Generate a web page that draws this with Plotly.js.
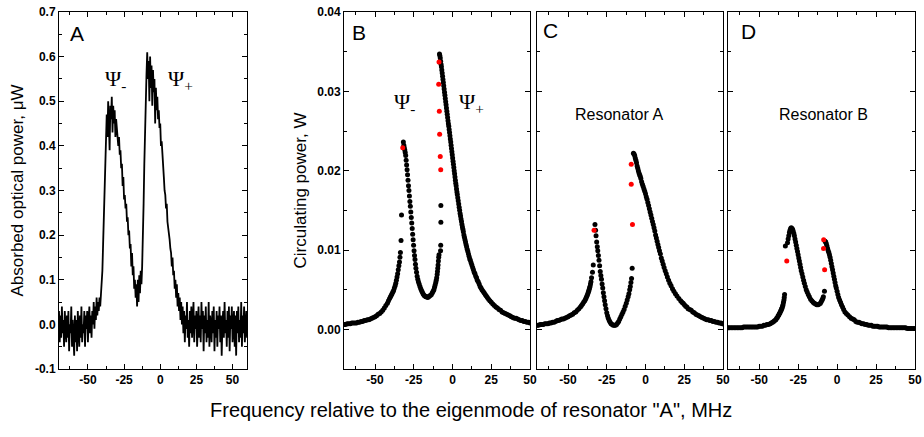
<!DOCTYPE html>
<html>
<head>
<meta charset="utf-8">
<script src="https://cdn.plot.ly/plotly-3.0.1.min.js"></script>
<style>html,body{margin:0;padding:0;background:#fff;}#chart{width:924px;height:437px;}</style>
</head>
<body>
<div id="chart"></div>
<script>
// ---------- Panel A: measured absorbed optical power (uW), sampled every 0.5 MHz from -70 MHz ----------
const absFreqStart = -70;
const absFreqStep = 0.5;
const absorbedPower = [
0.03,-0.04,0.02,-0.03,0.04,-0.02,0.01,-0.05,0.03,-0.01,
-0.04,0.02,-0.03,0.03,-0.06,0.00,-0.02,0.04,-0.05,0.01,
-0.03,-0.07,0.02,-0.04,0.01,-0.06,0.03,-0.02,-0.05,0.02,
-0.03,0.04,-0.04,0.00,-0.02,0.03,-0.05,0.02,-0.01,0.03,
-0.04,0.01,0.04,-0.02,0.02,-0.03,0.03,0.00,0.05,-0.01,
0.04,0.01,0.06,0.02,0.05,0.03,0.06,0.04,0.06,
0.08,0.12,0.18,0.25,0.32,0.38,0.44,
0.47,0.42,0.50,0.45,0.39,0.49,0.46,0.51,0.43,0.49,0.45,0.48,0.42,0.46,0.44,
0.43,0.40,0.42,0.38,0.39,0.35,0.36,0.31,0.33,0.28,0.29,0.26,0.27,0.23,0.24,0.20,0.21,0.17,0.18,0.13,0.16,0.11,0.13,0.08,0.10,0.06,
0.09,0.04,0.10,0.05,0.11,0.07,0.12,0.09,0.13,
0.18,0.27,0.36,0.45,0.52,0.56,
0.61,0.55,0.59,0.50,0.60,0.53,0.58,0.49,0.57,0.52,0.55,0.45,0.53,0.48,0.51,0.46,0.48,
0.44,0.45,0.40,0.41,0.37,0.35,0.33,0.30,0.29,0.26,0.27,0.23,0.22,0.20,0.19,0.17,0.16,0.13,0.15,0.11,0.12,0.08,0.10,0.06,0.09,0.04,0.07,0.03,0.06,0.01,0.05,0.00,
0.04,-0.02,0.03,-0.04,0.02,-0.01,0.05,-0.03,0.01,-0.05,
0.03,-0.02,0.04,-0.03,0.00,0.05,-0.04,0.02,-0.01,0.03,
-0.05,0.01,0.04,-0.03,0.02,-0.04,0.05,-0.01,0.03,-0.06,
0.02,-0.02,0.04,-0.04,0.01,-0.03,0.05,-0.05,0.02,0.00,
-0.04,0.03,-0.02,0.04,-0.06,0.01,-0.03,0.03,-0.05,0.02,
-0.01,0.04,-0.04,0.02,-0.07,0.00,0.03,-0.03,0.05,-0.02,
0.01,-0.05,0.03,-0.03,0.04,-0.06,0.02,-0.01,0.04,-0.04,
0.00,0.03,-0.05,0.02,-0.07,0.03,-0.02,0.04,-0.04,0.01,
-0.03,0.05,-0.05,0.02,-0.02,0.04,-0.04,0.01,0.03,-0.03
];

// ---------- Panel B: total circulating power (W) ----------
const bFreq = [
-70,-69,-68,-67,-66,-65,-64,-63,-62,-61,-60,-59,-58,-57,-56,-55,-54,-53,-52,-51,-50,-49,-48,-47,-46,-45,-44,-43,-42,-41.3,-40.6,-40,-39.5,-39,-38.5,-38,-37.5,-37,-36.6,-36.2,-35.8,-35.4,-35.0,-34.6,-34.2,-33.9,-33.6,-33.2,-32.9,
-31.7,-31.4,-31.1,-30.8,-30.5,-30.2,-29.9,-29.6,-29.3,-29.0,-28.7,-28.4,-28.1,-27.8,-27.5,-27.2,-26.9,-26.6,-26.3,-26.0,-25.7,-25.4,-25.1,-24.8,-24.5,-24.2,-23.9,-23.6,-23.2,-22.8,-22.4,-22.0,-21.5,-21.0,-20.5,-20.0,-19.5,-19.0,-18.4,-17.8,-17.2,-16.6,-16.0,-15.4,-14.8,-14.2,-13.6,-13.0,-12.5,-12.0,-11.6,-11.2,-10.8,-10.5,-10.2,-9.9,-9.7,-9.5,-9.3,-9.1,-8.9,
-8.7,-7.7,-7.6,-7.5,-7.5,
-8.4,-8.15,-7.9,-7.65,-7.4,-7.15,-6.9,-6.65,-6.4,-6.15,-5.9,-5.65,-5.4,-5.15,-4.9,-4.65,-4.4,-4.15,-3.9,-3.65,-3.4,-3.15,-2.9,-2.65,-2.4,-2.15,-1.9,-1.65,-1.4,-1.15,-0.9,-0.65,-0.4,-0.15,0.1,0.35,0.6,0.85,1.1,1.35,1.6,1.85,2.1,2.35,2.6,2.85,3.1,3.4,3.7,4.0,4.3,4.6,4.9,5.2,5.5,5.8,6.1,6.4,6.7,7.0,7.35,7.7,8.05,8.4,8.75,9.1,9.5,9.9,10.3,10.7,11.1,11.5,12.0,12.5,13.0,13.5,14.0,14.5,15.0,15.5,16.0,16.6,17.2,17.8,18.4,19.0,19.7,20.4,21.1,21.8,22.5,23.3,24.1,25.0,26,27,28,29,30,31,32,33,34,35,36,37,38,39,40,41,42,43,44,45,46,47,48,49,50];
const bPower = [
0.0006,0.0006,0.0007,0.0007,0.0007,0.0008,0.0008,0.0008,0.0008,0.0009,0.0009,0.0010,0.0010,0.0011,0.0011,0.0012,0.0012,0.0013,0.0014,0.0015,0.0016,0.0017,0.0019,0.0020,0.0022,0.0024,0.0027,0.0030,0.0033,0.0036,0.0039,0.0041,0.0043,0.0045,0.0047,0.0049,0.0052,0.0055,0.0058,0.0062,0.0066,0.0070,0.0075,0.0080,0.0085,0.0091,0.0097,0.0112,0.0144,
0.0236,0.0232,0.0229,0.0226,0.0223,0.0219,0.0213,0.0207,0.0201,0.0195,0.0188,0.0181,0.0175,0.0168,0.0161,0.0155,0.0148,0.0141,0.0134,0.0127,0.0120,0.0113,0.0106,0.0099,0.0093,0.0088,0.0082,0.0077,0.0072,0.0067,0.0063,0.0060,0.0057,0.0054,0.0051,0.0049,0.0047,0.0045,0.0043,0.0042,0.0041,0.0041,0.0040,0.0041,0.0042,0.0043,0.0044,0.0046,0.0048,0.0050,0.0053,0.0056,0.0059,0.0062,0.0065,0.0069,0.0073,0.0077,0.0081,0.0086,0.0091,
0.0094,0.0099,0.0106,0.0135,0.0156,
0.0347,0.0345,0.0342,0.0338,0.0334,0.0331,0.0327,0.0323,0.0319,0.0315,0.0311,0.0307,0.0303,0.0299,0.0295,0.0291,0.0287,0.0283,0.0279,0.0275,0.0271,0.0267,0.0263,0.0259,0.0256,0.0252,0.0248,0.0244,0.0240,0.0236,0.0232,0.0228,0.0224,0.0220,0.0216,0.0212,0.0208,0.0204,0.0200,0.0196,0.0192,0.0188,0.0184,0.0181,0.0177,0.0173,0.0170,0.0166,0.0162,0.0158,0.0154,0.0150,0.0146,0.0143,0.0139,0.0136,0.0132,0.0129,0.0126,0.0123,0.0119,0.0116,0.0113,0.0110,0.0107,0.0104,0.0101,0.0098,0.0095,0.0092,0.0089,0.0087,0.0084,0.0081,0.0078,0.0075,0.0072,0.0070,0.0067,0.0065,0.0062,0.0060,0.0057,0.0054,0.0052,0.0050,0.0048,0.0046,0.0044,0.0042,0.0040,0.0038,0.0036,0.0034,0.0032,0.0030,0.0028,0.0027,0.0025,0.0024,0.0022,0.0021,0.0020,0.0019,0.0018,0.0017,0.0016,0.0015,0.0014,0.0014,0.0013,0.0012,0.0011,0.0011,0.0010,0.0010,0.0009,0.0009,0.0008];
const bRedFreq = [-32.1,-8.7,-8.9,-8.5,-8.3,-7.9,-7.6];
const bRedPower = [0.0229,0.0337,0.0309,0.0275,0.0246,0.0218,0.0201];

// ---------- Panel C: resonator A ----------
const cFreq = [
-70,-69,-68,-67,-66,-65,-64,-63,-62,-61,-60,-59,-58,-57,-56,-55,-54,-53,-52,-51,-50,-49,-48,-47,-46,-45,-44,-43,-42,-41.3,-40.6,-39.9,-39.2,-38.7,-38.2,-37.8,-37.4,-37.0,-36.7,-36.4,-36.1,-35.8,-35.5,-35.2,-34.8,-34.2,-33.7,
-32.6,-32.2,-31.9,-31.5,-31.1,-30.8,-30.4,-30.0,-29.6,-29.2,-28.8,-28.4,-28.0,-27.6,-27.2,-26.8,-26.4,-26.0,-25.5,-25.0,-24.5,-24.0,-23.4,-22.8,-22.2,-21.5,-20.8,-20.1,-19.4,-18.7,-18.0,-17.3,-16.6,-15.9,-15.2,-14.5,-13.8,-13.1,-12.4,-11.8,-11.2,-10.7,-10.2,-9.8,-9.4,
-9.0,-8.6,
-7.8,-7.4,-7.0,-6.6,-6.2,-5.8,-5.4,-5.0,-4.6,-4.2,-3.8,-3.4,-3.0,-2.5,-2.0,-1.5,-1.0,-0.5,0.0,0.5,1.0,1.5,2.0,2.5,3.0,3.5,4.0,4.5,5.0,5.5,6.0,6.5,7.0,7.5,8.0,8.5,9.0,9.6,10.2,10.8,11.4,12.0,12.7,13.4,14.1,14.9,15.7,16.5,17.4,18.3,19.3,20.3,21.5,22.7,23.5,24.3,25.1,25.9,26.7,27.5,28.5,29.5,30.5,31.5,32.5,33.5,34.5,35.5,36.5,37.5,38.5,39.5,40.5,41.5,42.5,43.5,44.5,45.5,46.5,47.5,48.5,49.5,50];
const cPower = [
0.0005,0.0005,0.0006,0.0006,0.0006,0.0007,0.0007,0.0007,0.0008,0.0008,0.0009,0.0009,0.0010,0.0011,0.0011,0.0012,0.0013,0.0013,0.0014,0.0015,0.0016,0.0017,0.0018,0.0019,0.0021,0.0022,0.0024,0.0026,0.0028,0.0030,0.0032,0.0034,0.0036,0.0038,0.0040,0.0042,0.0044,0.0046,0.0048,0.0050,0.0052,0.0054,0.0057,0.0060,0.0065,0.0072,0.0081,
0.0132,0.0125,0.0118,0.0110,0.0104,0.0099,0.0093,0.0087,0.0080,0.0073,0.0068,0.0063,0.0057,0.0052,0.0046,0.0041,0.0036,0.0031,0.0026,0.0021,0.0017,0.0014,0.0011,0.0009,0.0007,0.0006,0.0005,0.0005,0.0005,0.0006,0.0008,0.0010,0.0013,0.0016,0.0019,0.0022,0.0025,0.0029,0.0033,0.0037,0.0041,0.0045,0.0050,0.0054,0.0059,
0.0064,0.0077,
0.0222,0.0221,0.0219,0.0216,0.0213,0.0210,0.0206,0.0203,0.0200,0.0197,0.0195,0.0193,0.0190,0.0186,0.0183,0.0180,0.0177,0.0174,0.0171,0.0167,0.0164,0.0160,0.0156,0.0152,0.0148,0.0144,0.0140,0.0136,0.0132,0.0128,0.0124,0.0119,0.0115,0.0111,0.0107,0.0103,0.0099,0.0095,0.0090,0.0086,0.0082,0.0078,0.0074,0.0070,0.0066,0.0062,0.0058,0.0055,0.0051,0.0048,0.0045,0.0042,0.0039,0.0036,0.0034,0.0033,0.0031,0.0029,0.0028,0.0026,0.0025,0.0024,0.0022,0.0021,0.0019,0.0018,0.0017,0.0016,0.0015,0.0014,0.0013,0.0012,0.0012,0.0011,0.0011,0.0010,0.0010,0.0009,0.0009,0.0008,0.0008,0.0007,0.0007];
const cRedFreq = [-33.2,-9.2,-9.2,-8.4];
const cRedPower = [0.0125,0.0208,0.0183,0.0132];

// ---------- Panel D: resonator B ----------
const dFreq = [
-70,-69,-68,-67,-66,-65,-64,-63,-62,-61,-60,-59,-58,-57,-56,-55,-54,-53,-52,-51,-50,-49,-48,-47,-46,-45,-44,-43,-42.2,-41.4,-40.7,-40.0,-39.3,-38.8,-38.3,-37.8,-37.4,-37.0,-36.6,-36.2,-35.9,-35.6,-35.3,-35.0,-34.7,-34.4,-34.1,-33.9,-33.7,
-33.2,
-31.8,-31.4,-31.0,-30.6,-30.2,-29.8,-29.4,-29.0,-28.6,-28.2,-27.8,-27.4,-27.0,-26.6,-26.2,-25.8,-25.4,-25.0,-24.6,-24.2,-23.8,-23.4,-23.0,-22.5,-22.0,-21.5,-21.0,-20.4,-19.8,-19.2,-18.5,-17.8,-17.0,-16.2,-15.4,-14.6,-13.8,-13.0,-12.2,-11.4,-10.7,-10.1,-9.6,-9.2,-8.8,
-8.1,
-7.7,-7.3,-6.9,-6.5,-6.1,-5.7,-5.3,-4.9,-4.5,-4.1,-3.7,-3.3,-2.9,-2.5,-2.1,-1.7,-1.3,-0.9,-0.5,0.0,0.5,1.0,1.6,2.2,2.8,3.5,4.2,5.0,5.9,6.9,8.0,9,10,11,12,13,14,15,16,17,18,19,20,21,22,23,24,25,26,27,28,29,30,31,32,33,34,35,36,37,38,39,40,41,42,43,44,45,46,47,48,49,50];
const dPower = [
0.0002,0.0002,0.0002,0.0002,0.0002,0.0002,0.0002,0.0002,0.0002,0.0002,0.0003,0.0003,0.0003,0.0003,0.0003,0.0003,0.0003,0.0003,0.0003,0.0003,0.0004,0.0004,0.0004,0.0005,0.0005,0.0006,0.0006,0.0007,0.0008,0.0009,0.0010,0.0011,0.0012,0.0014,0.0015,0.0017,0.0018,0.0020,0.0021,0.0023,0.0024,0.0026,0.0027,0.0029,0.0031,0.0034,0.0037,0.0040,0.0044,
0.0105,
0.0109,0.0114,0.0118,0.0122,0.0125,0.0127,0.0128,0.0127,0.0126,0.0124,0.0121,0.0118,0.0114,0.0110,0.0106,0.0102,0.0098,0.0094,0.0090,0.0086,0.0082,0.0078,0.0074,0.0070,0.0066,0.0062,0.0058,0.0054,0.0050,0.0047,0.0044,0.0041,0.0038,0.0036,0.0034,0.0033,0.0032,0.0031,0.0031,0.0032,0.0033,0.0035,0.0037,0.0039,0.0041,
0.0048,
0.0111,0.0110,0.0108,0.0105,0.0102,0.0099,0.0097,0.0094,0.0091,0.0087,0.0083,0.0079,0.0075,0.0071,0.0067,0.0063,0.0059,0.0055,0.0052,0.0048,0.0044,0.0040,0.0037,0.0034,0.0031,0.0028,0.0025,0.0022,0.0020,0.0018,0.0016,0.0014,0.0013,0.0012,0.0010,0.0009,0.0009,0.0008,0.0007,0.0007,0.0006,0.0006,0.0005,0.0005,0.0005,0.0004,0.0004,0.0004,0.0004,0.0003,0.0003,0.0003,0.0003,0.0003,0.0003,0.0002,0.0002,0.0002,0.0002,0.0002,0.0002,0.0002,0.0002,0.0002,0.0002,0.0002,0.0002,0.0001,0.0001,0.0001,0.0001,0.0001,0.0001];
const dRedFreq = [-32.3,-8.6,-8.7,-8.0];
const dRedPower = [0.0086,0.0113,0.0102,0.0075];

// ---------- tick labels ----------
const xTickVals = [-50,-25,0,25,50];
const xTickText = ['-50','-25','0','25','50'];
const xMinorVals = [-62.5,-37.5,-12.5,12.5,37.5];
const aTickVals = [-0.1,0,0.1,0.2,0.3,0.4,0.5,0.6,0.7];
const aTickText = ['-0.1','0.0','0.1','0.2','0.3','0.4','0.5','0.6','0.7'];
const aMinorVals = [-0.05,0.05,0.15,0.25,0.35,0.45,0.55,0.65];
const bTickVals = [0,0.01,0.02,0.03,0.04];
const bTickText = ['0.00','0.01','0.02','0.03','0.04'];
const bMinorVals = [0.005,0.015,0.025,0.035];

// ---------- build ----------
const absFreq = absorbedPower.map((_, i) => absFreqStart + i * absFreqStep);

const dotBlack = {size: 5, color: '#000000'};
const dotRed = {size: 5, color: '#ff0000'};
const traces = [
  {x: absFreq, y: absorbedPower, type: 'scatter', mode: 'lines', line: {color: '#000', width: 1.8}, xaxis: 'x', yaxis: 'y'},
  {x: bFreq, y: bPower, type: 'scatter', mode: 'markers', marker: dotBlack, xaxis: 'x2', yaxis: 'y2'},
  {x: bRedFreq, y: bRedPower, type: 'scatter', mode: 'markers', marker: dotRed, xaxis: 'x2', yaxis: 'y2'},
  {x: cFreq, y: cPower, type: 'scatter', mode: 'markers', marker: dotBlack, xaxis: 'x3', yaxis: 'y3'},
  {x: cRedFreq, y: cRedPower, type: 'scatter', mode: 'markers', marker: dotRed, xaxis: 'x3', yaxis: 'y3'},
  {x: dFreq, y: dPower, type: 'scatter', mode: 'markers', marker: dotBlack, xaxis: 'x4', yaxis: 'y4'},
  {x: dRedFreq, y: dRedPower, type: 'scatter', mode: 'markers', marker: dotRed, xaxis: 'x4', yaxis: 'y4'}
];

const W = 924, H = 437;
const px = v => v / W;
const py = v => 1 - v / H;
const tickFont = {family: 'Liberation Sans, Arial, sans-serif', size: 12, color: '#000', weight: 'bold'};
const yDom = [py(369), py(12)];

function xAxis(dom, range, anchor) {
  return {
    domain: dom, range: range, anchor: anchor,
    showline: true, linecolor: '#000', linewidth: 1, mirror: 'allticks',
    ticks: 'inside', ticklen: 5, tickcolor: '#000', tickwidth: 1,
    tickmode: 'array', tickvals: xTickVals, ticktext: xTickText,
    minor: {tickmode: 'array', tickvals: xMinorVals, ticks: 'inside', ticklen: 3, tickcolor: '#000', tickwidth: 1, showgrid: false},
    tickfont: tickFont, showgrid: false, zeroline: false, fixedrange: true
  };
}
function yAxis(range, anchor, vals, text, minorVals, showLabels, title) {
  const ax = {
    domain: yDom, range: range, anchor: anchor,
    showline: true, linecolor: '#000', linewidth: 1, mirror: 'allticks',
    ticks: 'inside', ticklen: 5, tickcolor: '#000', tickwidth: 1,
    tickmode: 'array', tickvals: vals, ticktext: text, showticklabels: showLabels,
    minor: {tickmode: 'array', tickvals: minorVals, ticks: 'inside', ticklen: 3, tickcolor: '#000', tickwidth: 1, showgrid: false},
    tickfont: tickFont, showgrid: false, zeroline: false, fixedrange: true
  };
  if (title) ax.title = {text: title, font: {family: 'Liberation Sans, Arial, sans-serif', size: 17, color: '#000'}, standoff: 6};
  return ax;
}

const labFont = {family: 'Liberation Sans, Arial, sans-serif', size: 21, color: '#000'};
const psiFont = {family: 'Liberation Serif, Times New Roman, serif', size: 22, color: '#000'};
const resFont = {family: 'Liberation Sans, Arial, sans-serif', size: 16, color: '#000'};
function ann(text, x, y, font, xanchor) {
  return {text: text, x: px(x), y: py(y), xref: 'paper', yref: 'paper', showarrow: false,
          xanchor: xanchor || 'center', yanchor: 'middle', font: font};
}

const layout = {
  width: W, height: H,
  margin: {l: 0, r: 0, t: 0, b: 0},
  paper_bgcolor: '#fff', plot_bgcolor: '#fff',
  showlegend: false,
  xaxis: xAxis([px(59), px(247)], [-70, 60], 'y'),
  yaxis: yAxis([-0.1, 0.7], 'x', aTickVals, aTickText, aMinorVals, true, 'Absorbed optical power, \u03bcW'),
  xaxis2: xAxis([px(344), px(530)], [-70, 50], 'y2'),
  yaxis2: yAxis([-0.005, 0.04], 'x2', bTickVals, bTickText, bMinorVals, true, 'Circulating power, W'),
  xaxis3: xAxis([px(537), px(723)], [-70, 50], 'y3'),
  yaxis3: yAxis([-0.005, 0.04], 'x3', bTickVals, bTickText, bMinorVals, false, null),
  xaxis4: xAxis([px(728), px(915)], [-70, 50], 'y4'),
  yaxis4: yAxis([-0.005, 0.04], 'x4', bTickVals, bTickText, bMinorVals, false, null),
  annotations: [
    ann('A', 77, 34, labFont),
    ann('B', 359, 33, labFont),
    ann('C', 550, 31, labFont),
    ann('D', 748, 32, labFont),
    ann('\u03a8<sub>-</sub>', 103, 80, psiFont, 'left'),
    ann('\u03a8<sub>+</sub>', 166, 80, psiFont, 'left'),
    ann('\u03a8<sub>-</sub>', 392, 103, psiFont, 'left'),
    ann('\u03a8<sub>+</sub>', 457, 103, psiFont, 'left'),
    ann('Resonator A', 619, 114, resFont),
    ann('Resonator B', 823, 114, resFont),
    ann('Frequency relative to the eigenmode of resonator "A", MHz', 471, 410,
        {family: 'Liberation Sans, Arial, sans-serif', size: 20, color: '#000'})
  ]
};

Plotly.newPlot('chart', traces, layout, {displayModeBar: false, staticPlot: true});
</script>
</body>
</html>
